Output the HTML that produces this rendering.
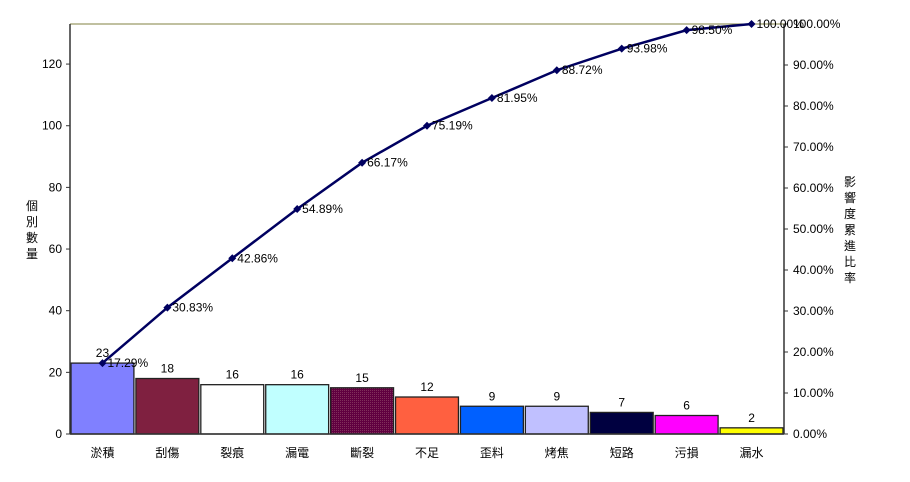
<!DOCTYPE html>
<html><head><meta charset="utf-8"><style>
html,body{margin:0;padding:0;background:#fff;}
svg{display:block;font-family:"Liberation Sans","Noto Sans CJK TC",sans-serif;}
</style></head><body>
<svg id="chart" width="910" height="482" viewBox="0 0 910 482" xmlns="http://www.w3.org/2000/svg">
<defs>
<pattern id="dots" width="2" height="2" patternUnits="userSpaceOnUse">
<rect width="2" height="2" fill="#600040"/><rect width="1" height="1" fill="#80305a"/>
</pattern>
</defs>
<g id="plot"></g>
<text font-size="12" fill="#000" text-anchor="middle">
<tspan x="32" y="210">個</tspan><tspan x="32" y="226">別</tspan><tspan x="32" y="242">數</tspan><tspan x="32" y="258">量</tspan></text>
<text font-size="12" fill="#000" text-anchor="middle">
<tspan x="850" y="186">影</tspan><tspan x="850" y="202">響</tspan><tspan x="850" y="218">度</tspan><tspan x="850" y="234">累</tspan><tspan x="850" y="250">進</tspan><tspan x="850" y="266">比</tspan><tspan x="850" y="282">率</tspan></text>
</svg>
<script>
const categories=["淤積","刮傷","裂痕","漏電","斷裂","不足","歪料","烤焦","短路","污損","漏水"];
const counts=[23,18,16,16,15,12,9,9,7,6,2];
const cumPct=[17.29,30.83,42.86,54.89,66.17,75.19,81.95,88.72,93.98,98.50,100.00];
const leftTicks=[0,20,40,60,80,100,120];
const rightTicks=[0,10,20,30,40,50,60,70,80,90,100];
const colors=["#8080FF","#7F2040","#FFFFFF","#C0FFFF","url(#dots)","#FF6040","#0060FF","#C0C0FF","#000040","#FF00FF","#FFFF00"];

const X0=70,X1=784,Y0=434,Y1=24,LMAX=133;
const svg=document.getElementById('plot');
const NS="http://www.w3.org/2000/svg";
const bw=(X1-X0)/categories.length;
const yL=v=>Y0-(v/LMAX)*(Y0-Y1);
const yR=p=>Y0-(p/100)*(Y0-Y1);
const xC=i=>X0+bw*(i+0.5);
function mk(t,a,p){const e=document.createElementNS(NS,t);for(const k in a)e.setAttribute(k,a[k]);(p||svg).appendChild(e);return e;}

mk('line',{x1:X0,y1:Y1,x2:X1,y2:Y1,stroke:'#808040','stroke-width':1});
counts.forEach((v,i)=>{
  const r=mk('rect',{x:X0+bw*i+1,y:yL(v),width:bw-2,height:Y0-yL(v),fill:colors[i],stroke:'#222','stroke-width':1.3});
  
  
  const t=mk('text',{x:xC(i),y:yL(v)-6,'font-size':12,'text-anchor':'middle',fill:'#000'});
  t.textContent=v;
  
  
  const c=mk('text',{x:xC(i),y:457,'font-size':12,'text-anchor':'middle',fill:'#000'});
  c.textContent=categories[i];
  
  
});
mk('line',{x1:X0,y1:Y1,x2:X0,y2:Y0,stroke:'#333','stroke-width':1.5});
mk('line',{x1:X1,y1:Y1,x2:X1,y2:Y0,stroke:'#333','stroke-width':1.5});
mk('line',{x1:X0,y1:Y0,x2:X1,y2:Y0,stroke:'#333','stroke-width':1.5});
leftTicks.forEach(v=>{
  mk('line',{x1:X0-4,y1:yL(v),x2:X0,y2:yL(v),stroke:'#333'});
  const t=mk('text',{x:X0-8,y:yL(v)+4,'font-size':12,'text-anchor':'end',fill:'#000'});
  t.textContent=v;
  
  
});
rightTicks.forEach(p=>{
  mk('line',{x1:X1,y1:yR(p),x2:X1+4,y2:yR(p),stroke:'#333'});
  const t=mk('text',{x:X1+9,y:yR(p)+4,'font-size':12,fill:'#000'});
  t.textContent=p.toFixed(2)+'%';
  
  
});
const pts=cumPct.map((p,i)=>xC(i)+','+yR(p)).join(' ');
const pl=mk('polyline',{points:pts,fill:'none',stroke:'#000060','stroke-width':2.5});


cumPct.forEach((p,i)=>{
  const x=xC(i),y=yR(p);
  const m=mk('polygon',{points:`${x},${y-4} ${x+4},${y} ${x},${y+4} ${x-4},${y}`,fill:'#000060'});
  
  
  const t=mk('text',{x:x+5,y:y+4,'font-size':12,fill:'#000'});
  t.textContent=p.toFixed(2)+'%';
  
  
});
</script>
</body></html>
